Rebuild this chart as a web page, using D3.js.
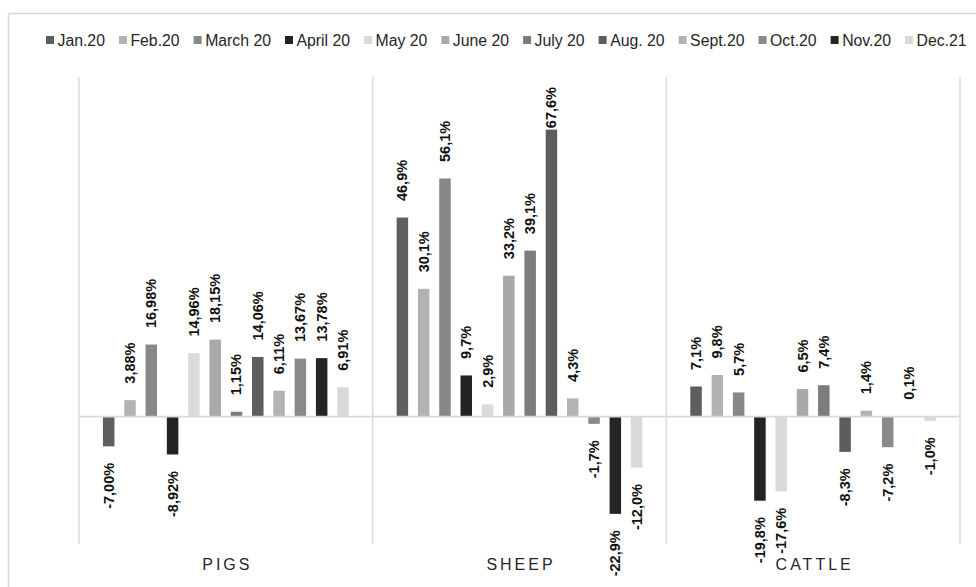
<!DOCTYPE html>
<html>
<head>
<meta charset="utf-8">
<script src="https://cdn.jsdelivr.net/npm/d3@7/dist/d3.min.js"></script>
<style>
  html, body { margin: 0; padding: 0; background: #ffffff; }
  svg { display: block; font-family: "Liberation Sans", Arial, sans-serif; }
</style>
</head>
<body>
<svg id="chart" width="976" height="587"></svg>
<script>
// Monthly change by livestock category (%)
const categories = ["PIGS", "SHEEP", "CATTLE"];
const months = ["Jan.20", "Feb.20", "March 20", "April 20", "May 20", "June 20",
                "July 20", "Aug. 20", "Sept.20", "Oct.20", "Nov.20", "Dec.21"];

const pigs   = [-7.00, 3.88, 16.98, -8.92, 14.96, 18.15, 1.15, 14.06, 6.11, 13.67, 13.78, 6.91];
const sheep  = [46.9, 30.1, 56.1, 9.7, 2.9, 33.2, 39.1, 67.6, 4.3, -1.7, -22.9, -12.0];
const cattle = [7.1, 9.8, 5.7, -19.8, -17.6, 6.5, 7.4, -8.3, 1.4, -7.2, 0.1, -1.0];

// label decimals per category (pigs shown with two decimals)
const decimals = [2, 1, 1];

const colors = ["#5e5e5e", "#b2b2b2", "#888888", "#232323", "#dadada", "#a9a9a9",
                "#7c7c7c", "#5d5d5d", "#b3b3b3", "#8a8a8a", "#252525", "#d9d9d9"];

const yDomain = [-30, 80];

const seriesByCat = [pigs, sheep, cattle];
const rows = [];
categories.forEach((c, ci) => {
  months.forEach((m, mi) => {
    rows.push({ cat: c, ci: ci, month: m, mi: mi, value: seriesByCat[ci][mi] });
  });
});

const svg = d3.select("#chart");
const W = 976, H = 587;

// chart frame (runs past the right and bottom edges)
const frame = svg.append("g").attr("stroke", "#d6d6d6").attr("stroke-width", 1.5);
frame.append("line").attr("x1", 8.5).attr("x2", W).attr("y1", 13.5).attr("y2", 13.5);
frame.append("line").attr("x1", 8.5).attr("x2", 8.5).attr("y1", 13.5).attr("y2", H);

const plot = { left: 79, right: 960, top: 77, bottom: 544 };

const x0 = d3.scaleBand().domain(categories).range([plot.left, plot.right]).padding(0);
const x1 = d3.scaleBand().domain(months).range([0, x0.bandwidth()])
  .paddingInner(0.46).paddingOuter(1.125);
const y = d3.scaleLinear().domain(yDomain).range([plot.bottom, plot.top]);

// category separators
const seps = categories.map(c => x0(c)).concat([x0(categories[categories.length - 1]) + x0.bandwidth()]);
svg.append("g").selectAll("line").data(seps).join("line")
  .attr("x1", d => d).attr("x2", d => d)
  .attr("y1", plot.top).attr("y2", plot.bottom)
  .attr("stroke", "#d9d9d9").attr("stroke-width", 1.4);

// bars
svg.append("g").selectAll("rect").data(rows).join("rect")
  .attr("x", d => x0(d.cat) + x1(d.month))
  .attr("width", x1.bandwidth())
  .attr("y", d => y(Math.max(0, d.value)))
  .attr("height", d => Math.abs(y(d.value) - y(0)))
  .attr("fill", d => colors[d.mi]);

// zero line
svg.append("line")
  .attr("x1", plot.left).attr("x2", plot.right)
  .attr("y1", y(0)).attr("y2", y(0))
  .attr("stroke", "#d9d9d9").attr("stroke-width", 1.6);

// value labels, rotated, outside the bar end
const gap = 16.5;
const minTop = 87;
const fmt = (v, dec) => v.toFixed(dec).replace(".", ",") + "%";
const labels = svg.append("g").selectAll("text").data(rows).join("text")
  .attr("font-size", "14.5px")
  .attr("font-weight", "bold")
  .attr("fill", "#111111")
  .attr("dominant-baseline", "central")
  .attr("text-anchor", d => d.value >= 0 ? "start" : "end")
  .text(d => fmt(d.value, decimals[d.ci]));

labels.each(function (d) {
  const len = this.getComputedTextLength();
  const cx = x0(d.cat) + x1(d.month) + x1.bandwidth() / 2;
  let cy;
  if (d.value >= 0) {
    cy = y(d.value) - gap;
    if (cy - len < minTop) cy = minTop + len;
  } else {
    cy = y(d.value) + gap;
  }
  d3.select(this).attr("transform", `translate(${cx},${cy}) rotate(-90)`);
});

// category titles
svg.append("g").selectAll("text").data(categories).join("text")
  .attr("x", d => x0(d) + x0.bandwidth() / 2 + 1.5)
  .attr("y", 569.5)
  .attr("text-anchor", "middle")
  .attr("font-size", "16px")
  .attr("letter-spacing", "3px")
  .attr("fill", "#262626")
  .text(d => d);

// legend
const legend = svg.append("g");
let lx = 46;
months.forEach((m, i) => {
  const g = legend.append("g").attr("transform", `translate(${lx},0)`);
  g.append("rect").attr("x", 0).attr("y", 36).attr("width", 8).attr("height", 8)
    .attr("fill", colors[i]);
  const t = g.append("text").attr("x", 11.5).attr("y", 45.5)
    .attr("font-size", "15.8px").attr("fill", "#262626").text(m);
  lx += 11.5 + t.node().getComputedTextLength() + 14;
});
</script>
</body>
</html>
